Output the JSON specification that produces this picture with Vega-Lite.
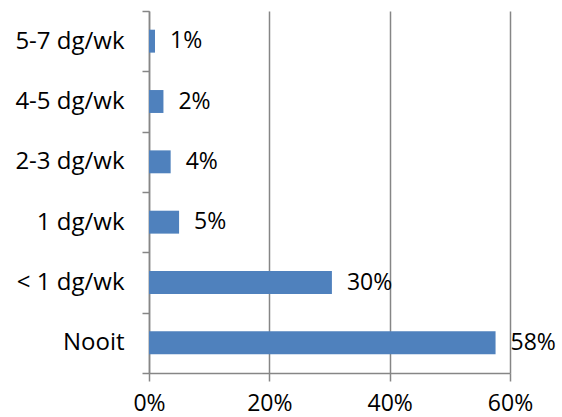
{
  "$schema": "https://vega.github.io/schema/vega-lite/v6.json",
  "width": 361,
  "height": 362,
  "autosize": {"type": "none"},
  "padding": {"left": 149, "top": 11, "right": 52, "bottom": 44},
  "background": "white",
  "config": {
    "view": {"stroke": null},
    "font": "Open Sans"
  },
  "data": {
    "values": [
      {"freq": "5-7 dg/wk", "pct": 0.010},
      {"freq": "4-5 dg/wk", "pct": 0.024},
      {"freq": "2-3 dg/wk", "pct": 0.036},
      {"freq": "1 dg/wk", "pct": 0.050},
      {"freq": "< 1 dg/wk", "pct": 0.304},
      {"freq": "Nooit", "pct": 0.576}
    ]
  },
  "encoding": {
    "y": {
      "field": "freq",
      "type": "nominal",
      "sort": null,
      "scale": {"paddingInner": 0, "paddingOuter": 0},
      "axis": {
        "title": null,
        "grid": false,
        "tickBand": "extent",
        "tickSize": 7,
        "tickColor": "#868686",
        "domainColor": "#868686",
        "tickWidth": 1.5,
        "domainWidth": 1.5,
        "labelFontSize": 24,
        "labelColor": "#000000",
        "labelPadding": 18,
        "labelFont": "Open Sans"
      }
    },
    "x": {
      "field": "pct",
      "type": "quantitative",
      "scale": {"domain": [0, 0.6], "nice": false},
      "axis": {
        "title": null,
        "values": [0, 0.2, 0.4, 0.6],
        "format": ".0%",
        "grid": true,
        "gridColor": "#868686",
        "gridWidth": 1.5,
        "tickColor": "#868686",
        "tickWidth": 1.5,
        "tickSize": 8,
        "domainColor": "#868686",
        "domainWidth": 1.5,
        "labelFontSize": 23,
        "labelColor": "#000000",
        "labelPadding": 11,
        "labelFont": "Open Sans",
        "labelFlush": false
      }
    }
  },
  "layer": [
    {"mark": {"type": "bar", "color": "#4F81BD", "height": {"band": 0.38}}},
    {
      "mark": {"type": "text", "align": "left", "baseline": "middle", "dx": 15, "fontSize": 23, "font": "Open Sans", "color": "#000000"},
      "encoding": {"text": {"field": "pct", "type": "quantitative", "format": ".0%"}}
    }
  ]
}
